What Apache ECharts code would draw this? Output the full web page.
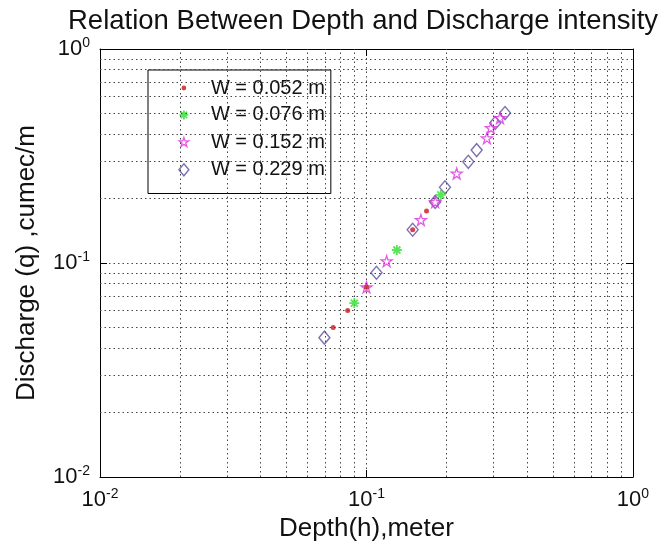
<!DOCTYPE html>
<html>
<head>
<meta charset="utf-8">
<script src="https://cdn.jsdelivr.net/npm/echarts@6/dist/echarts.min.js"></script>
<style>html,body{margin:0;padding:0;background:#fff}#c{width:660px;height:542px}</style>
</head>
<body>
<div id="c"></div>
<script>
// ---- data ----
const titleText = 'Relation Between Depth and Discharge intensity';
const xName = 'Depth(h),meter';
const yName = 'Discharge (q) ,cumec/m';
const seriesNames = ['W = 0.052 m', 'W = 0.076 m', 'W = 0.152 m', 'W = 0.229 m'];

const w052_h = [0.075, 0.085, 0.100, 0.149, 0.168];
const w052_q = [0.050, 0.060, 0.077, 0.143, 0.175];

const w076_h = [0.090, 0.130, 0.190];
const w076_q = [0.065, 0.115, 0.208];

const w152_h = [0.100, 0.119, 0.160, 0.181, 0.218, 0.283, 0.293, 0.317];
const w152_q = [0.077, 0.102, 0.159, 0.193, 0.262, 0.383, 0.428, 0.476];

const w229_h = [0.0695, 0.109, 0.149, 0.181, 0.197, 0.241, 0.259, 0.304, 0.331];
const w229_q = [0.0448, 0.090, 0.143, 0.193, 0.226, 0.297, 0.337, 0.451, 0.502];

const axisMin = 0.01, axisMax = 1;
const minorGrid = [0.02,0.03,0.04,0.05,0.06,0.07,0.08,0.09,0.2,0.3,0.4,0.5,0.6,0.7,0.8,0.9];

// ---- styling ----
const FONT = 'Liberation Sans, Arial, sans-serif';
const colors = ['#c8161d', '#2ee02e', '#e030e0', '#5a4f9e'];
const pts = (xs, ys) => xs.map((x, i) => [x, ys[i]]);

const asteriskPath = 'path://M5,0L5,10M0,5L10,5M1.5,1.5L8.5,8.5M1.5,8.5L8.5,1.5';
const starPath = 'path://M10,0L12.25,6.91L19.51,6.91L13.63,11.18L15.88,18.09L10,13.82L4.12,18.09L6.37,11.18L0.49,6.91L7.75,6.91Z';

const legIcons = [
  'path://M0,0M20,20M10,7.6A2.4,2.4,0,1,1,10,12.4A2.4,2.4,0,1,1,10,7.6Z',
  'path://M0,0M20,20M10,5.5L10,14.5M5.5,10L14.5,10M6.8,6.8L13.2,13.2M6.8,13.2L13.2,6.8',
  'path://M0,0M20,20M10,5L11.125,8.455L14.755,8.455L11.815,10.59L12.94,14.045L10,11.91L7.06,14.045L8.185,10.59L5.245,8.455L8.875,8.455Z',
  'path://M0,0M20,20M10,4L15,10L10,16L5,10Z'
];
const legStyles = [
  {color: colors[0], borderWidth: 0},
  {color: 'rgba(0,0,0,0)', borderColor: colors[1], borderWidth: 1.8},
  {color: 'rgba(0,0,0,0)', borderColor: colors[2], borderWidth: 1.3},
  {color: 'rgba(0,0,0,0)', borderColor: colors[3], borderWidth: 1.4}
];

const labelFmt = v => '{b|10}{s|' + Math.round(Math.log10(v)) + '}';
const labelRich = {
  b: {fontSize: 22, fontFamily: FONT, color: '#111'},
  s: {fontSize: 14, fontFamily: FONT, color: '#111', padding: [0, 0, 12, 0]}
};
const dotted = {type: [1.5, 3], color: '#444', width: 1};

function logAxis(pos, showLabels, extra) {
  return Object.assign({
    type: 'log', logBase: 10, min: axisMin, max: axisMax, position: pos,
    axisLine: {show: true, onZero: false, lineStyle: {color: '#000', width: 1}},
    axisTick: {show: true, inside: true, length: 7, lineStyle: {color: '#000'}},
    axisLabel: showLabels ? {formatter: labelFmt, rich: labelRich, margin: 10} : {show: false},
    splitLine: {show: showLabels, lineStyle: dotted},
    minorTick: {show: false}
  }, extra || {});
}

const chart = echarts.init(document.getElementById('c'), null, {renderer: 'canvas'});
chart.setOption({
  animation: false,
  backgroundColor: '#fff',
  textStyle: {fontFamily: FONT},
  title: {
    text: titleText, left: 63, top: 2,
    textStyle: {fontSize: 27.5, fontWeight: 'normal', color: '#111', fontFamily: FONT}
  },
  grid: {left: 100, top: 49, right: 27, bottom: 65, outerBoundsMode: 'none', containLabel: false},
  xAxis: [
    logAxis('bottom', true, {
      name: xName, nameLocation: 'middle', nameGap: 38,
      nameTextStyle: {fontSize: 26, color: '#111', fontFamily: FONT}
    }),
    logAxis('top', false)
  ],
  yAxis: [
    logAxis('left', true, {
      name: yName, nameLocation: 'middle', nameGap: 60,
      nameTextStyle: {fontSize: 26, color: '#111', fontFamily: FONT}
    }),
    logAxis('right', false)
  ],
  legend: {
    orient: 'vertical', left: 148, top: 70,
    backgroundColor: '#fff', borderColor: '#000', borderWidth: 1,
    padding: [8, 6, 13, 25],
    itemWidth: 20, itemHeight: 20, itemGap: 6,
    textStyle: {fontSize: 20, color: '#111', fontFamily: FONT, padding: [0, 0, 0, 12]},
    data: seriesNames.map((n, i) => ({name: n, icon: legIcons[i], itemStyle: legStyles[i]}))
  },
  series: [
    {
      name: 'grid', type: 'scatter', data: [], silent: true,
      markLine: {
        silent: true, symbol: ['none', 'none'], label: {show: false}, animation: false,
        lineStyle: dotted, emphasis: {disabled: true},
        data: minorGrid.map(v => ({xAxis: v})).concat(minorGrid.map(v => ({yAxis: v})))
      }
    },
    {
      name: seriesNames[3], type: 'scatter', data: pts(w229_h, w229_q),
      symbol: 'diamond', symbolSize: [11, 13], z: 3,
      itemStyle: {color: 'rgba(0,0,0,0)', borderColor: colors[3], borderWidth: 1.4}
    },
    {
      name: seriesNames[2], type: 'scatter', data: pts(w152_h, w152_q),
      symbol: starPath, symbolSize: 11, z: 4,
      itemStyle: {color: 'rgba(0,0,0,0)', borderColor: colors[2], borderWidth: 1.3}
    },
    {
      name: seriesNames[1], type: 'scatter', data: pts(w076_h, w076_q),
      symbol: asteriskPath, symbolSize: 10, z: 5,
      itemStyle: {color: colors[1], borderColor: colors[1], borderWidth: 1.8}
    },
    {
      name: seriesNames[0], type: 'scatter', data: pts(w052_h, w052_q),
      symbol: 'circle', symbolSize: 5, z: 6,
      itemStyle: {color: colors[0], borderWidth: 0}
    }
  ]
});
</script>
</body>
</html>
